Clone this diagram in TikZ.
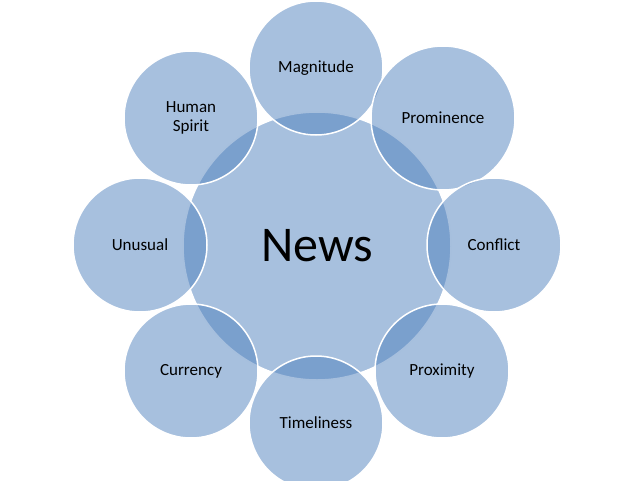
\documentclass[tikz,border=0pt]{standalone}
\usepackage{fontspec}
\setmainfont{Carlito}
\definecolor{bub}{RGB}{79,129,189}
\begin{document}
\begin{tikzpicture}[x=1pt,y=-1pt,
  bubble/.style={circle,fill=bub,fill opacity=0.5,text opacity=1,draw=white,line width=1.5pt,inner sep=0pt,align=center,font=\fontsize{17}{19}\selectfont}]
\useasboundingbox (0,0) rectangle (638,480);
\clip (0,0) rectangle (638,480);
\node[bubble,minimum size=268pt,font=\fontsize{50}{54}\selectfont] (news) at (317,246) {News};
\node[bubble,minimum size=134pt] (mag) at (316,68) {Magnitude};
\node[bubble,minimum size=144pt] (pro) at (443,118) {Prominence};
\node[bubble,minimum size=134pt] (con) at (494,245) {Conflict};
\node[bubble,minimum size=134pt] (prox) at (442,371) {Proximity};
\node[bubble,minimum size=134pt] (time) at (316,423) {Timeliness};
\node[bubble,minimum size=134pt] (cur) at (191,371) {Currency};
\node[bubble,minimum size=134pt] (unu) at (140,245) {Unusual};
\node[bubble,minimum size=134pt] (hum) at (191,118) {Human\\Spirit};
\end{tikzpicture}
\end{document}
